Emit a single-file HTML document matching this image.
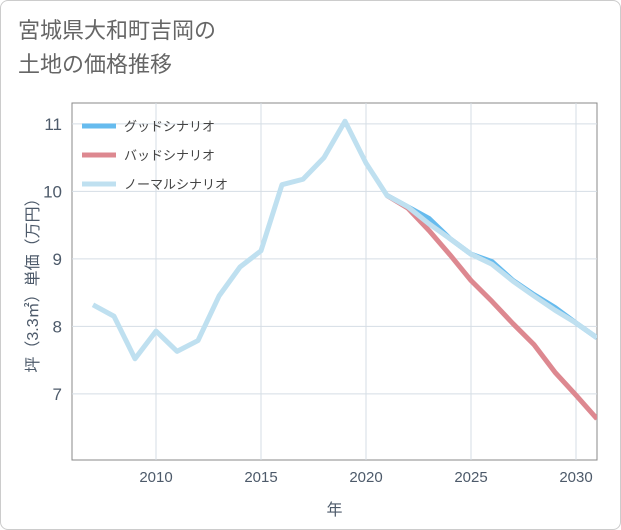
<!DOCTYPE html>
<html><head><meta charset="utf-8"><style>
body{margin:0;background:#fff;}
#wrap{position:relative;width:621px;height:530px;font-family:"Liberation Sans","Noto Sans CJK JP",sans-serif;}
#card{position:absolute;left:0;top:0;width:619px;height:528px;border:1px solid #ccc;border-radius:8px;background:#fff;}
#title{position:absolute;left:18px;top:14px;font-size:22px;line-height:34px;color:#666;}
</style></head><body>
<div id="wrap">
<div id="card"></div>
<div id="title">宮城県大和町吉岡の<br>土地の価格推移</div>
<svg id="chart" width="621" height="530" style="position:absolute;left:0;top:0"></svg>
</div>
<script>
const years=[2007,2008,2009,2010,2011,2012,2013,2014,2015,2016,2017,2018,2019,2020,2021,2022,2023,2024,2025,2026,2027,2028,2029,2030,2031];
const normalVals=[8.32,8.15,7.52,7.93,7.63,7.79,8.45,8.88,9.12,10.1,10.18,10.5,11.04,10.42,9.94,9.77,9.52,9.3,9.07,8.92,8.67,8.45,8.24,8.05,7.83];
const goodYears=[2021,2022,2023,2024,2025,2026,2027,2028,2029,2030,2031];
const goodVals=[9.94,9.77,9.6,9.3,9.07,8.96,8.68,8.47,8.28,8.05,7.83];
const badYears=[2021,2022,2023,2024,2025,2026,2027,2028,2029,2030,2031];
const badVals=[9.94,9.75,9.42,9.06,8.68,8.37,8.04,7.73,7.32,6.98,6.63];
const xTicks=[2010,2015,2020,2025,2030];
const yTicks=[7,8,9,10,11];
const legendLabels=["グッドシナリオ","バッドシナリオ","ノーマルシナリオ"];
const legendColors=["#66bbee","#dd8890","#bfe0f0"];

const L=72,R=597,T=103,B=460;
const x=v=>L+(v-2006)*(R-L)/25;
const y=v=>B-(v-6.02)*(B-T)/(11.31-6.02);
const svg=document.getElementById('chart');
const NS='http://www.w3.org/2000/svg';
const axisColor='#4d5a6a';
function mk(tag,attrs){const e=document.createElementNS(NS,tag);for(const k in attrs)e.setAttribute(k,attrs[k]);svg.appendChild(e);return e;}
const frame=mk('rect',{x:L,y:T,width:R-L,height:B-T,fill:'none',stroke:'#888','stroke-width':1});


xTicks.forEach(t=>{
  const g=mk('line',{x1:x(t),x2:x(t),y1:T,y2:B,stroke:'#d5dde5'});
  
  
  const tx=mk('text',{x:x(t),y:B+22,'text-anchor':'middle','font-size':15,fill:axisColor});
  tx.textContent=t;
  
  
});
yTicks.forEach(t=>{
  const g=mk('line',{x1:L,x2:R,y1:y(t),y2:y(t),stroke:'#d5dde5'});
  
  
  const tx=mk('text',{x:L-10,y:y(t)+6,'text-anchor':'end','font-size':17,fill:axisColor});
  tx.textContent=t;
  
  
});
const xt=mk('text',{x:(L+R)/2,y:515,'text-anchor':'middle','font-size':16,fill:axisColor});
xt.textContent='年';


const yt=mk('text',{x:0,y:0,'text-anchor':'middle','font-size':16,fill:axisColor,transform:`translate(38,${(T+B)/2}) rotate(-90)`});
yt.textContent='坪（3.3㎡）単価（万円）';


const clip=mk('clipPath',{id:'c'});
const cr=document.createElementNS(NS,'rect');cr.setAttribute('x',L);cr.setAttribute('y',T);cr.setAttribute('width',R-L);cr.setAttribute('height',B-T);clip.appendChild(cr);
function line(xs,vs,color,name){
  const p=mk('polyline',{points:xs.map((v,i)=>x(v)+','+y(vs[i])).join(' '),fill:'none',stroke:color,'stroke-width':5,'stroke-linejoin':'round','clip-path':'url(#c)'});
  
  
}
line(goodYears,goodVals,legendColors[0],'good-scenario-line');
line(badYears,badVals,legendColors[1],'bad-scenario-line');
line(years,normalVals,legendColors[2],'normal-scenario-line');
legendLabels.forEach((lab,i)=>{
  const yy=126+i*29;
  const s=mk('line',{x1:82,x2:116,y1:yy,y2:yy,stroke:legendColors[i],'stroke-width':5});
  
  
  const t=mk('text',{x:124,y:yy+5,'font-size':13,fill:'#444'});
  t.textContent=lab;
  
  
});
</script>
</body></html>
